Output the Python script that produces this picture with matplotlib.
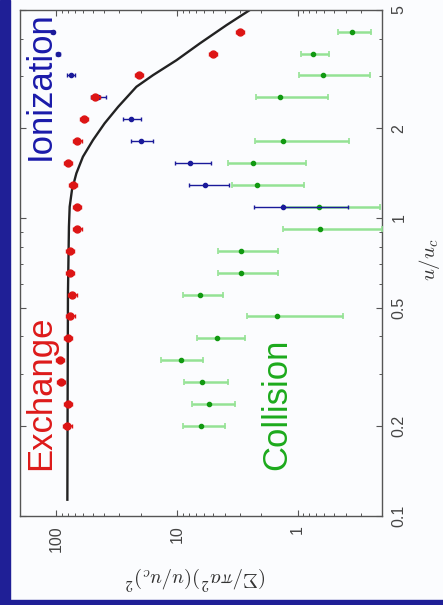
import matplotlib
matplotlib.use('Agg')
import matplotlib.pyplot as plt
from matplotlib.patches import Rectangle
from matplotlib.ticker import FixedLocator, FixedFormatter, LogLocator, NullFormatter

plt.rcParams['font.family'] = ['Liberation Sans', 'DejaVu Sans']
plt.rcParams['mathtext.fontset'] = 'cm'

# u/u_c values of the measured points
u_ex = [0.2, 0.237, 0.282, 0.334, 0.396, 0.469, 0.553, 0.655, 0.777, 0.918,
        1.09, 1.29, 1.53, 1.81, 2.15, 2.55, 3.02, 3.57, 4.22]
ex = [81, 80, 92, 94, 80, 76.5, 73.6, 77.5, 77.5, 67,
      68, 73, 80, 67, 59, 47.5, 20.6, 5.07, 3.01]
ex_err = [6.5, 6.4, 7.4, 7.5, 6.4, 6.1, 5.9, 6.2, 6.2, 5.4,
          5.4, 5.8, 6.4, 5.4, 4.7, 3.8, 1.6, 0.4, 0.24]

u_ion = [1.09, 1.29, 1.53, 1.81, 2.15, 2.55, 3.02, 3.57, 4.22]
ion = [1.32, 5.88, 7.83, 19.7, 23.9, 45.2, 76, 97, 107]
ion_lo = [0.38, 3.72, 5.27, 15.8, 19.7, 39, 70.5, 93, 104]
ion_hi = [2.31, 7.98, 10.4, 23.9, 28.2, 52, 81.7, 101, 110]

u_col = [0.2, 0.237, 0.282, 0.334, 0.396, 0.469, 0.553, 0.655, 0.777, 0.918,
         1.09, 1.29, 1.53, 1.81, 2.55, 3.02, 3.57, 4.22]
col = [6.38, 5.45, 6.19, 9.18, 4.7, 1.49, 6.47, 2.96, 2.96, 0.653,
       0.666, 2.19, 2.34, 1.32, 1.40, 0.62, 0.743, 0.352]
col_hi = [8.9, 7.58, 8.73, 13.6, 6.8, 2.65, 8.9, 4.56, 4.56, 1.32,
          1.32, 3.49, 3.81, 2.26, 2.22, 0.97, 0.939, 0.463]
col_lo = [4.01, 3.31, 3.81, 6.14, 2.74, 0.423, 4.19, 1.45, 1.45, 0.2,
          0.207, 0.887, 0.853, 0.373, 0.557, 0.25, 0.547, 0.248]

# theory curve
u_th = [0.113, 0.245, 0.556, 0.935, 1.091, 1.242, 1.413, 1.606, 1.827, 2.08,
        2.365, 2.76, 3.02, 3.39, 3.86, 4.45, 5.0]
th = [81.0, 80.6, 80.1, 78.6, 77.5, 74.2, 68.2, 60.2, 49.7, 39.8,
      30.7, 21.7, 15.8, 10.1, 6.47, 3.88, 2.49]

u_ticks = [0.1, 0.2, 0.5, 1, 2, 5]
u_ticklabels = ['0.1', '0.2', '0.5', '1', '2', '5']
s_ticks = [100, 10, 1]
s_ticklabels = ['100', '10', '1']

fig = plt.figure(figsize=(4.43, 6.05), dpi=100)
fig.patch.set_facecolor('#fbfcfe')
fig.add_artist(Rectangle((0, 0), 10/443, 1, transform=fig.transFigure,
                         color='#1f1f96', zorder=0))
fig.add_artist(Rectangle((0, 0), 1, 5/605, transform=fig.transFigure,
                         color='#1f1f96', zorder=0))

ax = fig.add_axes([20/443, 89.5/605, 362/443, 505.5/605])
ax.set_facecolor('#fbfcfe')

ax.plot(th, u_th, color='#222222', lw=1.7, zorder=2)

ax.errorbar(col, u_col,
            xerr=[[c - l for c, l in zip(col, col_lo)], [h - c for c, h in zip(col, col_hi)]],
            fmt='o', ms=3, color='#119911', ecolor='#94e294', elinewidth=1.8,
            capsize=2, capthick=1.2, zorder=3)
ax.errorbar(ion, u_ion,
            xerr=[[c - l for c, l in zip(ion, ion_lo)], [h - c for c, h in zip(ion, ion_hi)]],
            fmt='o', ms=3, color='#1a1a9a', elinewidth=1, capsize=1.5, capthick=1, zorder=4)
ax.errorbar(ex, u_ex, xerr=ex_err, fmt='o', ms=5, color='#dd1515',
            elinewidth=1.2, capsize=1.5, zorder=5)

ax.set_xscale('log')
ax.set_yscale('log')
ax.set_xlim(200, 0.2)
ax.set_ylim(0.1, 5)

ax.yaxis.set_major_locator(FixedLocator(u_ticks))
ax.yaxis.set_major_formatter(FixedFormatter(u_ticklabels))
ax.yaxis.set_minor_locator(FixedLocator([0.3, 0.4, 0.6, 0.7, 0.8, 0.9, 3, 4]))
ax.yaxis.set_minor_formatter(NullFormatter())
ax.xaxis.set_major_locator(FixedLocator(s_ticks))
ax.xaxis.set_major_formatter(FixedFormatter(s_ticklabels))
ax.xaxis.set_minor_locator(LogLocator(base=10, subs=range(2, 10)))
ax.xaxis.set_minor_formatter(NullFormatter())

ax.tick_params(which='both', direction='in', top=True, bottom=True, left=True, right=True,
               labelleft=False, labelright=True, color='#555555',
               labelcolor='#444444', labelsize=11.5)
ax.tick_params(which='major', length=4, width=0.8)
ax.tick_params(which='minor', length=2, width=0.7)
ax.tick_params(axis='x', labelrotation=90, pad=7)
ax.tick_params(axis='y', labelrotation=90, pad=7)
for lab in ax.get_yticklabels():
    lab.set_va('center')
for s in ax.spines.values():
    s.set_color('#555555')
    s.set_linewidth(1)

fig.text(196/443, 1 - 577/605, r'$(\Sigma/\pi a^2)(u/u_c)^2$', rotation=180,
         ha='center', va='center', fontsize=15, color='#333333')
fig.text(429/443, 1 - 260/605, r'$u/u_c$', rotation=90,
         ha='center', va='center', fontsize=15, color='#333333')

ax.text(0.0829, 0.09, 'Exchange', transform=ax.transAxes, rotation=90,
        rotation_mode='anchor', ha='left', va='baseline', fontsize=25, color='#dd1a1a')
ax.text(0.7348, 0.09, 'Collision', transform=ax.transAxes, rotation=90,
        rotation_mode='anchor', ha='left', va='baseline', fontsize=25, color='#1caa1c')
ax.text(0.0829, 0.7033, 'Ionization', transform=ax.transAxes, rotation=90,
        rotation_mode='anchor', ha='left', va='baseline', fontsize=25, color='#1a1aaa')

fig.savefig('out.png', dpi=100, facecolor=fig.get_facecolor())
